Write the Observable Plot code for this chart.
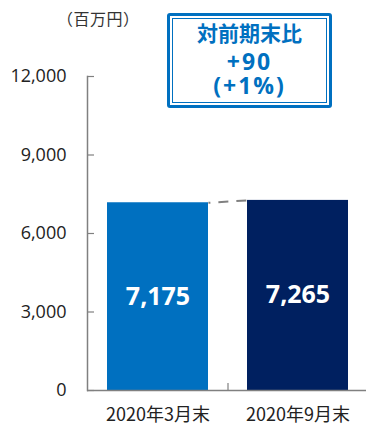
<!DOCTYPE html>
<html><head><meta charset="utf-8">
<script src="https://cdn.jsdelivr.net/npm/d3@7"></script>
<script src="https://cdn.jsdelivr.net/npm/@observablehq/plot@0.6"></script>
<style>
body{margin:0;background:#fff;font-family:"Noto Sans CJK JP","Noto Sans",sans-serif;}
#wrap{position:relative;width:366px;height:429px;overflow:hidden;}
#wrap svg{position:absolute;left:0;top:0;}
#unit{position:absolute;left:57px;top:8px;font-size:16px;color:#333;line-height:20px;white-space:nowrap;letter-spacing:0.5px;}
#box{position:absolute;left:167px;top:13px;width:165px;height:95px;box-sizing:border-box;border:3px solid #0070c0;border-radius:3px;background:#fff;}
#inner{position:absolute;left:2px;top:2px;right:2px;bottom:2px;border:1.5px solid #0070c0;}
.line{position:absolute;left:0;right:0;height:24px;line-height:24px;text-align:center;color:#0070c0;font-weight:bold;font-size:21px;white-space:nowrap;}
.line.num{font-family:"Open Sans","Noto Sans CJK JP",sans-serif;letter-spacing:2px;font-size:23px;height:48px;line-height:24px;white-space:pre;}
</style></head><body><div id="wrap"></div>
<script>
const categories = ["2020年3月末", "2020年9月末"];
const values = [7175, 7265];
const valueLabels = ["7,175", "7,265"];
const barColors = ["#0070c0", "#002060"];
const yTicks = [0, 3000, 6000, 9000, 12000];
const unitLabel = "（百万円）";
const changeLines = ["対前期末比", "+90", "(+1%)"];

const data = categories.map((c, i) => ({cat: c, value: values[i], label: valueLabels[i]}));
const link = [{x1: categories[0], x2: categories[1], y1: values[0], y2: values[1]}];

const xRange = [87, 367], padIn = 0.28, padOut = 0.14;
const bandwidth = d3.scaleBand().domain(categories).range(xRange).paddingInner(padIn).paddingOuter(padOut).bandwidth();

const plot = Plot.plot({
  width: 366, height: 429,
  marginTop: 76, marginBottom: 39, marginLeft: 87, marginRight: 0,
  style: {fontFamily: '"Noto Sans CJK JP","Noto Sans",sans-serif', background: "transparent"},
  x: {domain: categories, range: xRange, paddingInner: padIn, paddingOuter: padOut, axis: null},
  y: {domain: [0, 12000], axis: null},
  color: {domain: categories, range: barColors},
  marks: [
    Plot.barY(data, {x: "cat", y: "value", fill: "cat"}),
    Plot.text(data, {x: "cat", y: d => d.value / 2, text: "label", fill: "white", fontSize: 25, fontWeight: "bold", fontFamily: '"Open Sans",sans-serif'}),
    Plot.link(link, {
      x1: "x1", x2: "x2", y1: "y1", y2: "y2",
      stroke: "#808080", strokeWidth: 2, strokeDasharray: "10,8", strokeDashoffset: 8,
      render(index, scales, values, dimensions, context, next) {
        const h = bandwidth / 2;
        const x1 = Array.from(values.x1, v => v + h);
        const x2 = Array.from(values.x2, v => v - h);
        return next(index, scales, {...values, x1, x2}, dimensions, context);
      }
    }),
    Plot.ruleY([0], {stroke: "#808080", strokeWidth: 1.5}),
    Plot.frame({anchor: "left", stroke: "#808080", strokeWidth: 1.5}),
    Plot.ruleX([categories[1]], {x: d => d, y1: 0, y2: 270, dx: -70, stroke: "#808080", strokeWidth: 1.2}),
    Plot.axisY({ticks: yTicks, tickSize: -7, tickFormat: () => "", stroke: "#808080", strokeWidth: 1.2}),
    Plot.axisY({ticks: yTicks, tickSize: 0, tickPadding: 21, tickFormat: d => d3.format(",")(d), fontSize: 18, fill: "#222", fontFamily: '"Open Sans",sans-serif'}),
    Plot.axisX({tickSize: 0, tickPadding: 18, fontSize: 18, fill: "#222", ariaLabel: "xlabels"})
  ]
});
d3.select(plot).selectAll('g[aria-label="xlabels"] text').attr("letter-spacing", "1.4px");
const wrap = document.getElementById("wrap");
wrap.appendChild(plot);
const unit = document.createElement("div");
unit.id = "unit"; unit.textContent = unitLabel;
wrap.appendChild(unit);
const box = document.createElement("div");
box.id = "box";
const inner = document.createElement("div");
inner.id = "inner";
box.appendChild(inner);
const title = document.createElement("div");
title.className = "line";
title.style.top = "4px";
title.textContent = changeLines[0];
box.appendChild(title);
const nums = document.createElement("div");
nums.className = "line num";
nums.style.top = "33px";
nums.textContent = changeLines.slice(1).join("\n");
box.appendChild(nums);
wrap.appendChild(box);
</script></body></html>
